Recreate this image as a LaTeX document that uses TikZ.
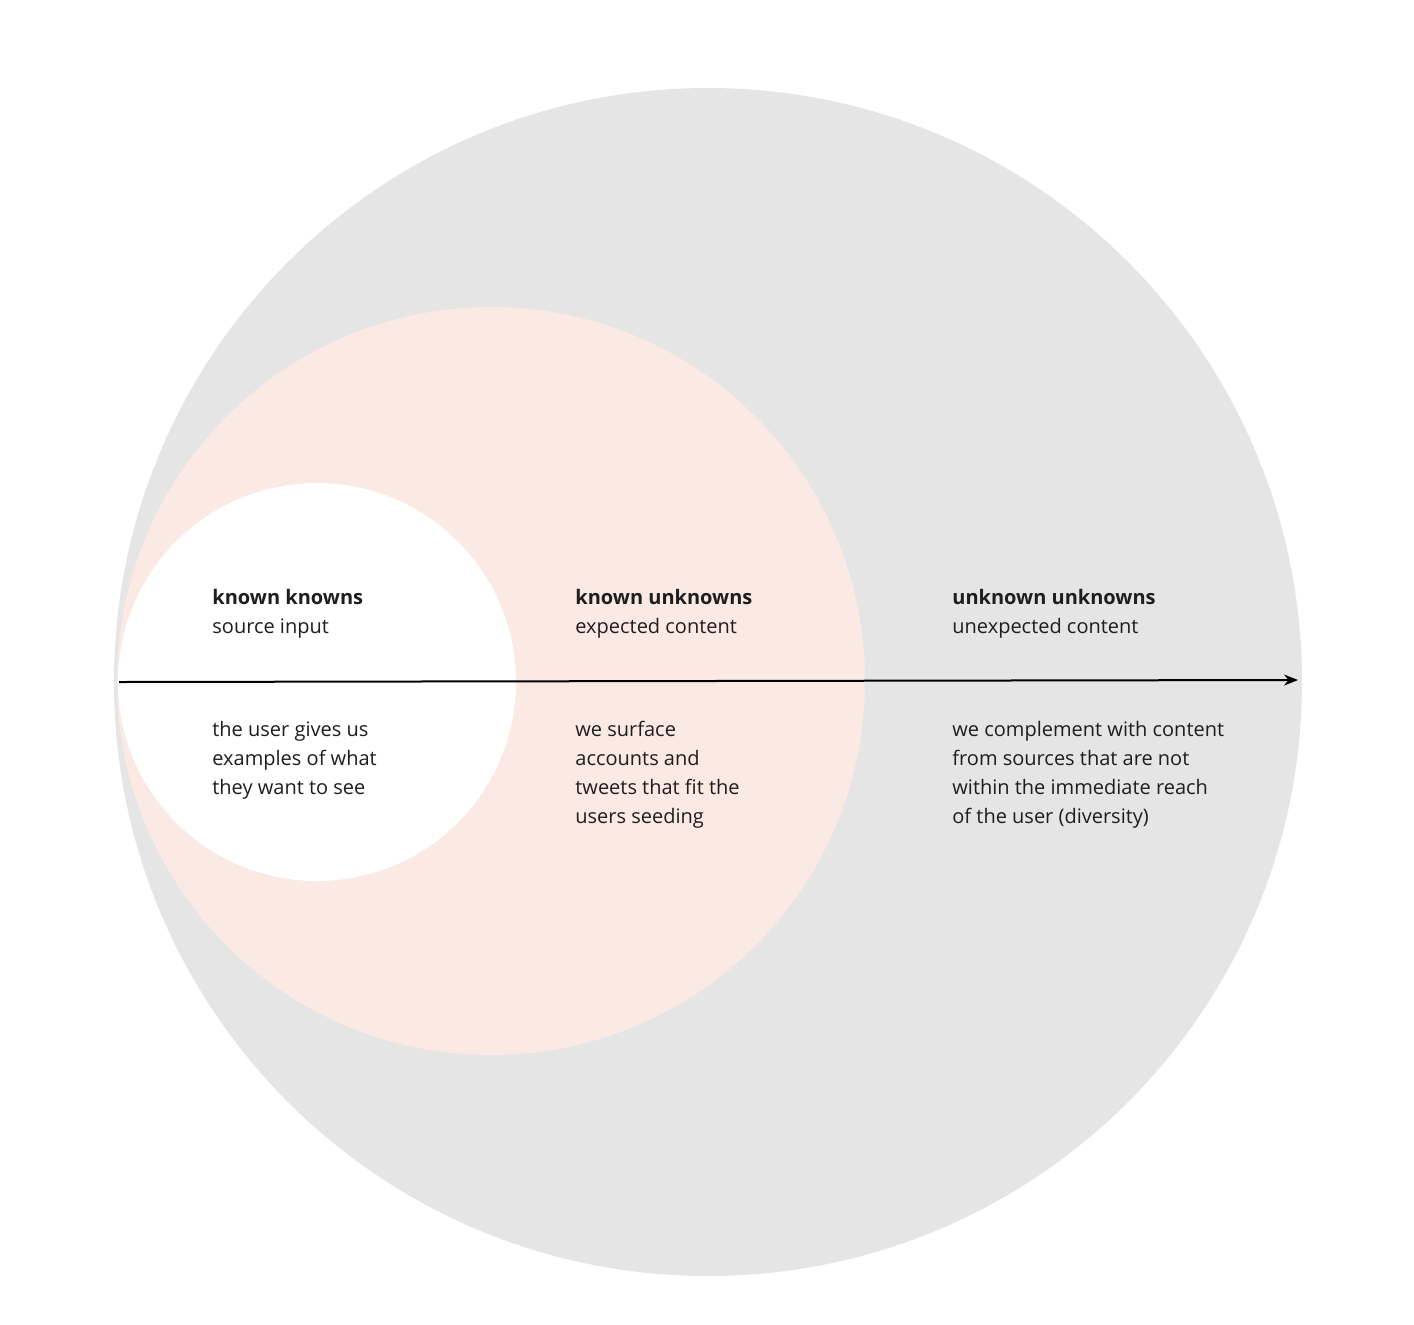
\documentclass[tikz,border=0pt]{standalone}
\usepackage{fontspec}
\setmainfont{Open Sans}
\usetikzlibrary{arrows.meta}
\definecolor{outergrey}{HTML}{E5E5E5}
\definecolor{midpink}{HTML}{FBE9E4}
\definecolor{ink}{HTML}{1E1E1E}
\begin{document}
\begin{tikzpicture}[x=0.5pt,y=-0.5pt,
  zone/.style={circle,inner sep=0pt,draw=none},
  % multi-line labels are placed by the baseline of their last line
  label/.style={anchor=base west,inner sep=0pt,align=left,text=ink,
    font=\fontsize{10pt}{14.5pt}\selectfont},
  axis/.style={line width=1pt,-{Stealth[length=7pt,width=5.5pt]}}]
  \useasboundingbox (0,0) rectangle (1414,1324);
  % nested circles
  \node[zone,fill=outergrey,minimum size=594pt] (outer) at (708,682) {};
  \node[zone,fill=midpink,minimum size=374pt] (middle) at (491,681) {};
  \node[zone,fill=white,minimum size=199pt] (inner) at (317,682) {};
  % axis
  \coordinate (start) at (119,682);
  \coordinate (end) at (1298,680);
  \draw[axis] (start) -- (end);
  % headings
  \node[label] (kk) at (212,633) {\textbf{known knowns}\\source input};
  \node[label] (ku) at (575,633) {\textbf{known unknowns}\\expected content};
  \node[label] (uu) at (952,633) {\textbf{unknown unknowns}\\unexpected content};
  % descriptions
  \node[label] (kkd) at (212,794) {the user gives us\\examples of what\\they want to see};
  \node[label] (kud) at (575,823) {we surface\\accounts and\\tweets that fit the\\users seeding};
  \node[label] (uud) at (952,823) {we complement with content\\from sources that are not\\within the immediate reach\\of the user (diversity)};
\end{tikzpicture}
\end{document}
